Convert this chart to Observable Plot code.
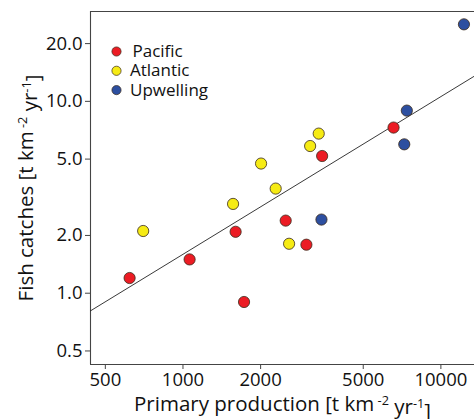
<!DOCTYPE html>
<html>
<head>
<meta charset="utf-8">
<script src="https://cdn.jsdelivr.net/npm/d3@7"></script>
<script src="https://cdn.jsdelivr.net/npm/@observablehq/plot@0.6"></script>
<style>
  html, body { margin: 0; padding: 0; background: #fff; }
  #chart svg { font-family: "Open Sans", sans-serif; display: block; }
</style>
</head>
<body>
<div id="chart"></div>
<script>
// Data
const groups = ["Pacific", "Atlantic", "Upwelling"];
const groupColors = ["#ec1c24", "#f6eb14", "#2d4fa0"];

const pacificProduction = [621, 1061, 1600, 1725, 2502, 3010, 3464, 6553];
const pacificCatch      = [1.20, 1.50, 2.09, 0.90, 2.39, 1.79, 5.19, 7.30];

const atlanticProduction = [701, 1564, 2008, 2288, 2579, 3112, 3360];
const atlanticCatch      = [2.11, 2.92, 4.74, 3.51, 1.81, 5.85, 6.79];

const upwellingProduction = [3443, 7211, 7379, 12286];
const upwellingCatch      = [2.42, 5.97, 8.95, 25.2];

const xTicks = [500, 1000, 2000, 5000, 10000];
const yTicks = [0.5, 1, 2, 5, 10, 20];
const xDomain = [438, 13500];
const yDomain = [0.425, 29.4];

// log-log fit line: catch = fitAt1000 * (production/1000)^fitSlope
const fitSlope = 0.822;
const fitAt1000 = 1.595;

const points = [
  ...pacificProduction.map((x, i) => ({x, y: pacificCatch[i], group: "Pacific"})),
  ...atlanticProduction.map((x, i) => ({x, y: atlanticCatch[i], group: "Atlantic"})),
  ...upwellingProduction.map((x, i) => ({x, y: upwellingCatch[i], group: "Upwelling"}))
];
const fitLine = xDomain.map(x => ({x, y: fitAt1000 * Math.pow(x / 1000, fitSlope)}));

const xLabel = "Primary production [t km^-2 yr^-1]";
const yLabel = "Fish catches [t km^-2 yr^-1]";

const legendMarks = groups.flatMap((g, i) => [
  Plot.dot([g], {frameAnchor: "top-left", dx: 26, dy: 40 + i * 19.3, r: 4.6,
    fill: groupColors[i], stroke: "#3a2a1a", strokeWidth: 0.7}),
  Plot.text([g], {frameAnchor: "top-left", dx: i === 0 ? 42 : 39.5, dy: 40 + i * 19.3,
    text: d => d, textAnchor: "start", lineAnchor: "middle", fontSize: 17, fill: "#111"})
]);

const chart = Plot.plot({
  width: 474,
  height: 419,
  marginLeft: 90,
  marginTop: 11,
  marginBottom: 55,
  marginRight: 0,
  style: {fontFamily: "Open Sans, sans-serif", background: "#fff", color: "#111"},
  x: {type: "log", domain: xDomain},
  y: {type: "log", domain: yDomain},
  color: {domain: groups, range: groupColors},
  marks: [
    Plot.ruleY([yDomain[1]], {stroke: "#444", strokeWidth: 1.1}),
    Plot.ruleY([yDomain[0]], {stroke: "#444", strokeWidth: 1.1}),
    Plot.ruleX([xDomain[0]], {stroke: "#444", strokeWidth: 1.1}),
    Plot.axisX({ticks: xTicks, tickFormat: d3.format("d"), tickSize: 5, tickPadding: 3,
      fontSize: 18.5, stroke: "#444", label: xLabel, labelAnchor: "center", labelArrow: "none",
      labelOffset: 46}),
    Plot.axisY({ticks: yTicks, tickFormat: d3.format(".1f"), tickSize: 5, tickPadding: 3,
      fontSize: 18.5, stroke: "#444", label: yLabel, labelAnchor: "center", labelArrow: "none",
      labelOffset: 72}),
    Plot.line(fitLine, {x: "x", y: "y", stroke: "#222", strokeWidth: 0.9}),
    Plot.dot(points, {x: "x", y: "y", fill: "group", r: 5.6, stroke: "#3a2a1a", strokeWidth: 0.8}),
    ...legendMarks
  ]
});

// Render superscripts in axis labels
d3.select(chart).selectAll("text").each(function() {
  const t = this.textContent;
  if (t === xLabel || t === yLabel) {
    const base = t === xLabel ? "Primary production [t km" : "Fish catches [t km";
    const sel = d3.select(this);
    sel.text(null).attr("font-size", 20.5);
    sel.append("tspan").text(base);
    sel.append("tspan").attr("dy", "-0.45em").attr("font-size", "0.62em").text(" -2");
    sel.append("tspan").attr("dy", "0.45em").text(" yr");
    sel.append("tspan").attr("dy", "-0.45em").attr("font-size", "0.62em").text("-1");
    sel.append("tspan").attr("dy", "0.45em").text("]");
  }
});
document.getElementById("chart").appendChild(chart);
</script>
</body>
</html>
